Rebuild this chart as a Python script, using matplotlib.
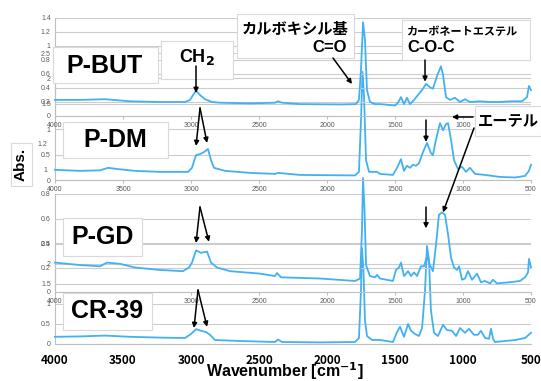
import matplotlib.pyplot as plt
from matplotlib.patches import Rectangle, ConnectionPatch
from matplotlib.ticker import FuncFormatter

W, H = 541, 381

# spectra (wavenumber cm-1, absorbance)
wn_but = [4000, 3816, 3632, 3449, 3228, 3044, 3007, 2985, 2963, 2934, 2897, 2846, 2787, 2566,
          2382, 2360, 2331, 2199, 1904, 1787, 1765, 1750, 1735, 1721, 1706, 1684, 1647, 1610,
          1500, 1478, 1456, 1434, 1412, 1390, 1360, 1331, 1301, 1272, 1243, 1221, 1191, 1162,
          1147, 1125, 1096, 1059, 1022, 985, 949, 875, 801, 728, 654, 566, 529, 515, 500]
abs_but = [0.23, 0.23, 0.24, 0.21, 0.20, 0.20, 0.23, 0.30, 0.36, 0.30, 0.24, 0.20, 0.19, 0.18,
           0.19, 0.21, 0.19, 0.17, 0.165, 0.17, 0.23, 0.66, 1.34, 1.09, 0.37, 0.20, 0.17, 0.17,
           0.15, 0.19, 0.27, 0.17, 0.26, 0.17, 0.23, 0.30, 0.37, 0.46, 0.41, 0.39, 0.57, 0.71,
           0.59, 0.27, 0.23, 0.26, 0.20, 0.24, 0.20, 0.21, 0.20, 0.20, 0.21, 0.21, 0.27, 0.43, 0.37]

wn_dm = [4000, 3816, 3669, 3610, 3522, 3412, 3228, 3022, 2993, 2963, 2934, 2904, 2875, 2853,
         2831, 2750, 2566, 2382, 2360, 2199, 1794, 1765, 1750, 1739, 1728, 1713, 1691, 1632,
         1610, 1515, 1485, 1456, 1434, 1412, 1390, 1368, 1346, 1324, 1294, 1265, 1236, 1221,
         1199, 1169, 1147, 1125, 1110, 1088, 1066, 1037, 1007, 978, 949, 912, 838, 728, 617,
         544, 515, 500]
abs_dm = [0.20, 0.18, 0.19, 0.24, 0.21, 0.18, 0.16, 0.16, 0.24, 0.49, 0.51, 0.55, 0.61, 0.39,
          0.24, 0.18, 0.14, 0.12, 0.14, 0.10, 0.09, 0.16, 1.18, 2.13, 1.67, 0.39, 0.16, 0.16,
          0.12, 0.10, 0.24, 0.41, 0.18, 0.28, 0.24, 0.30, 0.28, 0.33, 0.55, 0.73, 0.53, 0.49,
          0.79, 1.12, 0.98, 1.10, 1.12, 0.79, 0.39, 0.22, 0.26, 0.16, 0.24, 0.12, 0.10, 0.06, 0.05,
          0.08, 0.18, 0.30]

wn_gd = [4000, 3816, 3669, 3618, 3522, 3412, 3228, 3059, 3015, 2993, 2963, 2926, 2882, 2853,
         2809, 2713, 2493, 2382, 2368, 2338, 2051, 1794, 1757, 1743, 1735, 1724, 1713, 1684,
         1647, 1632, 1610, 1515, 1493, 1471, 1456, 1434, 1404, 1382, 1360, 1338, 1309, 1287,
         1265, 1243, 1221, 1199, 1177, 1155, 1132, 1110, 1088, 1066, 1044, 1029, 1007, 985,
         963, 934, 897, 868, 838, 801, 779, 750, 654, 581, 544, 522, 515, 500]
abs_gd = [0.24, 0.22, 0.21, 0.24, 0.23, 0.20, 0.18, 0.17, 0.20, 0.24, 0.34, 0.32, 0.33, 0.24,
          0.20, 0.17, 0.15, 0.13, 0.155, 0.12, 0.11, 0.09, 0.11, 0.50, 0.93, 0.67, 0.22, 0.13,
          0.12, 0.14, 0.11, 0.09, 0.18, 0.20, 0.24, 0.13, 0.17, 0.13, 0.16, 0.13, 0.21, 0.21,
          0.29, 0.22, 0.17, 0.38, 0.63, 0.65, 0.63, 0.47, 0.28, 0.20, 0.18, 0.21, 0.10, 0.11,
          0.17, 0.10, 0.15, 0.08, 0.09, 0.07, 0.10, 0.07, 0.08, 0.09, 0.12, 0.16, 0.27, 0.20]

wn_cr = [4000, 3816, 3632, 3449, 3228, 3044, 3000, 2963, 2926, 2890, 2860, 2824, 2640, 2382,
         2360, 2331, 2051, 1794, 1765, 1750, 1743, 1732, 1721, 1706, 1669, 1610, 1515, 1485,
         1463, 1434, 1404, 1382, 1353, 1324, 1301, 1279, 1265, 1250, 1236, 1213, 1184, 1147,
         1118, 1081, 1051, 1022, 985, 956, 919, 890, 868, 838, 809, 794, 779, 765, 691, 617,
         544, 500]
abs_cr = [0.18, 0.19, 0.21, 0.18, 0.16, 0.15, 0.25, 0.37, 0.33, 0.30, 0.23, 0.10, 0.075, 0.05,
          0.11, 0.05, 0.04, 0.05, 0.15, 1.35, 2.40, 1.85, 0.60, 0.20, 0.10, 0.10, 0.05, 0.30,
          0.43, 0.18, 0.50, 0.33, 0.25, 0.20, 0.40, 1.35, 2.45, 2.10, 0.85, 0.28, 0.20, 0.48,
          0.35, 0.33, 0.20, 0.40, 0.28, 0.38, 0.23, 0.23, 0.33, 0.15, 0.13, 0.38, 0.13, 0.05,
          0.075, 0.10, 0.15, 0.28]

xticks = [4000, 3500, 3000, 2500, 2000, 1500, 1000, 500]

plt.rcParams['font.family'] = ['Liberation Sans', 'DejaVu Sans']
JP = ['Noto Sans CJK JP', 'DejaVu Sans']
LINE = '#42b1f2'
GRID = '#cccccc'

fig = plt.figure(figsize=(W / 100, H / 100), dpi=100)


def panel(top, bottom, ymax, yticks):
    ax = fig.add_axes([55 / W, 1 - bottom / H, 476 / W, (bottom - top) / H])
    ax.patch.set_visible(False)
    ax.set_xlim(4000, 500)
    ax.set_ylim(0, ymax)
    ax.set_xticks(xticks)
    ax.set_yticks(yticks)
    ax.yaxis.set_major_formatter(FuncFormatter(lambda v, p: '%g' % v))
    ax.grid(axis='y', color=GRID, lw=0.8)
    ax.set_axisbelow(True)
    for s in ['top', 'right']:
        ax.spines[s].set_visible(False)
    for s in ['left', 'bottom']:
        ax.spines[s].set_color('#bfbfbf')
        ax.spines[s].set_linewidth(0.8)
    ax.tick_params(axis='y', length=0, labelsize=5, labelcolor='#595959', pad=3)
    ax.tick_params(axis='x', length=2, color='#bfbfbf', labelsize=5, labelcolor='#595959', pad=2)
    return ax


ax4 = panel(244, 344, 2.5, [0, 0.5, 1, 1.5, 2, 2.5])
ax3 = panel(194, 292, 0.8, [0, 0.2, 0.4, 0.6, 0.8])
ax2 = panel(53, 180, 2.5, [0, 0.5, 1, 1.5, 2, 2.5])
ax1 = panel(18, 116, 1.4, [0, 0.2, 0.4, 0.6, 0.8, 1, 1.2, 1.4])

ax4.tick_params(axis='x', labelsize=8.5, labelcolor='black', pad=7, length=0)
for lab in ax4.get_xticklabels():
    lab.set_fontweight('bold')
    lab.set_family(JP)

for ax, wn, ab in [(ax1, wn_but, abs_but), (ax2, wn_dm, abs_dm),
                   (ax3, wn_gd, abs_gd), (ax4, wn_cr, abs_cr)]:
    ax.plot(wn, ab, color=LINE, lw=1.3, clip_on=False, zorder=3)

# stray labels of the overlapped chart areas
fig.text(47 / W, 1 - 144 / H, '1.2', fontsize=5, color='#595959', ha='right', va='center')
fig.text(47 / W, 1 - 170 / H, '1', fontsize=5, color='#595959', ha='right', va='center')


def box(x0, y0, x1, y1):
    fig.add_artist(Rectangle((x0 / W, 1 - y1 / H), (x1 - x0) / W, (y1 - y0) / H,
                             transform=fig.transFigure, fc='white', ec='#d9d9d9',
                             lw=0.8, zorder=5))


def label(x, y, s, size, ha='center', family=None, **kw):
    fig.text(x / W, 1 - y / H, s, fontsize=size, fontweight='bold', ha=ha, va='center',
             family=family or ['Liberation Sans', 'DejaVu Sans'], zorder=6, **kw)


def arrow(x, y, ax, wn, val):
    fig.add_artist(ConnectionPatch((x, H - y), (wn, val), coordsA='figure pixels',
                                   coordsB=ax.transData, arrowstyle='-|>', mutation_scale=7,
                                   lw=1.1, color='black', shrinkA=0, shrinkB=0, zorder=7))


box(53, 47, 158, 83)
label(105, 66, 'P-BUT', 18)
box(161, 41, 233, 79)
label(197, 57, r'CH$_\mathbf{2}$', 13)
box(237, 14, 354, 58)
label(295, 29, 'カルボキシル基', 11, family=JP)
label(347, 47, 'C=O', 12, ha='right')
box(402, 20, 530, 60)
label(406, 32, 'カーボネートエステル', 8, ha='left', family=JP)
label(407, 48, 'C-O-C', 12, ha='left')
box(475, 106, 541, 136)
label(508, 121, 'エーテル', 11, family=JP)
box(63, 122, 168, 158)
label(115, 140, 'P-DM', 18)
box(11, 143, 32, 186)
label(21, 164, 'Abs.', 11, rotation=90)
box(63, 218, 142, 256)
label(103, 237, 'P-GD', 18)
box(63, 293, 152, 330)
label(107, 311, 'CR-39', 18)
label(285, 371, r'Wavenumber [cm$^{\mathbf{-1}}$]', 11.5)

# arrows
arrow(196, 66, ax1, 2963, 0.33)
arrow(333, 58, ax1, 1816, 0.457)
arrow(425, 60, ax1, 1279, 0.49)
arrow(200, 108, ax2, 2963, 0.67)
arrow(200, 108, ax2, 2882, 0.73)
arrow(426, 120, ax2, 1272, 0.75)
arrow(473, 117, ax2, 1081, 1.24)
arrow(474, 128, ax3, 1147, 0.65)
arrow(200, 207, ax3, 2963, 0.40)
arrow(200, 207, ax3, 2868, 0.41)
arrow(426, 207, ax3, 1272, 0.52)
arrow(198, 290, ax4, 2978, 0.40)
arrow(198, 290, ax4, 2882, 0.43)

fig.savefig('out.png', dpi=100)
